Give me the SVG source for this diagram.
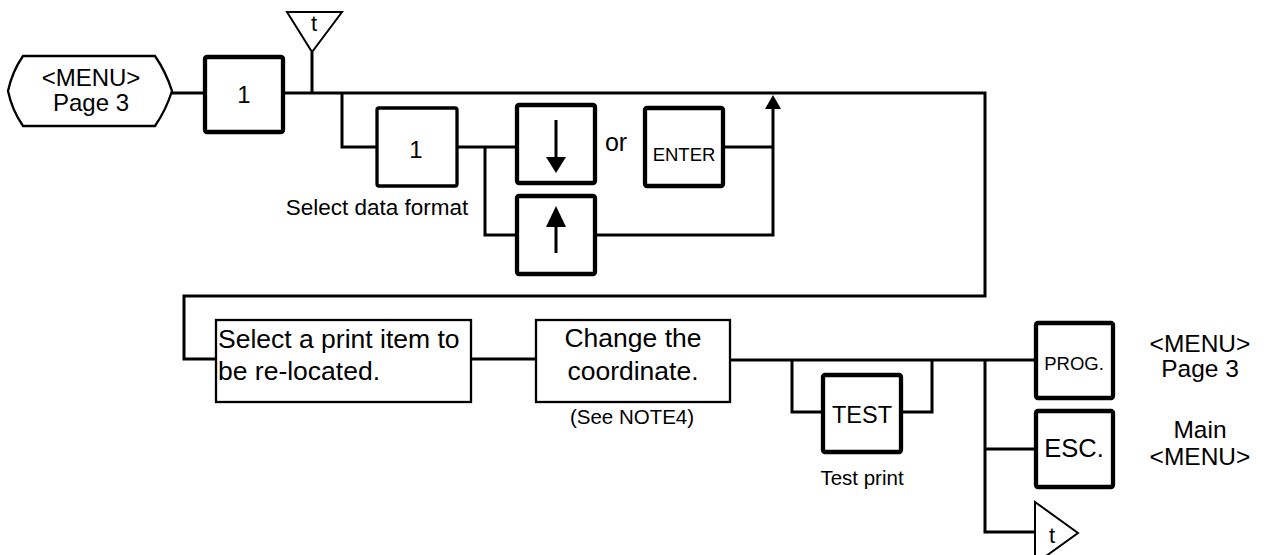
<svg xmlns="http://www.w3.org/2000/svg" width="1269" height="555" viewBox="0 0 1269 555">
<style>
text{font-family:"Liberation Sans",Arial,sans-serif;fill:#000}
.c{text-anchor:middle}
.key{fill:#fff;stroke:#000;stroke-width:4.3}
.key3{fill:#fff;stroke:#000;stroke-width:3.3}
.box{fill:#fff;stroke:#000;stroke-width:2.3}
.tri{fill:#fff;stroke:#000;stroke-width:2}
.ln{fill:none;stroke:#000;stroke-width:3}
</style>
<g id="connectors">
<path class="ln" d="M172,93 H205"/>
<path class="ln" d="M283,93 H985 V296 H184 V359 H216"/>
<path class="ln" d="M312,93 V52"/>
<path class="ln" d="M342,93 V147 H377"/>
<path class="ln" d="M457,147 H517"/>
<path class="ln" d="M485,147 V235 H517"/>
<path class="ln" d="M723,147 H773"/>
<path class="ln" d="M595,235 H773 V108"/>
<path d="M765,109 L773,95 L781,109 Z" fill="#000"/>
<path class="ln" d="M471,359 H536"/>
<path class="ln" d="M730,360 H1036"/>
<path class="ln" d="M792,360 V412 H823"/>
<path class="ln" d="M901,412 H932 V360"/>
<path class="ln" d="M985,360 V532 H1035"/>
<path class="ln" d="M985,449 H1036"/>
</g>
<g id="start">
<path class="box" d="M23,56 H155 Q166,72 172,91 Q166,110 155,126 H23 Q12,110 8,91 Q12,72 23,56 Z"/>
<text class="c" x="91" y="86" font-size="24">&lt;MENU&gt;</text>
<text class="c" x="91" y="111" font-size="24">Page 3</text>
</g>
<g id="key1">
<rect class="key" x="205" y="57" width="78" height="75" rx="2"/>
<text class="c" x="244" y="103" font-size="24">1</text>
</g>
<g id="t-top">
<path class="tri" d="M287,12 H342 L312,52 Z"/>
<text class="c" x="314" y="31" font-size="22">t</text>
</g>
<g id="key1b">
<rect class="key3" x="377" y="108" width="80" height="78" rx="2"/>
<text class="c" x="416" y="158" font-size="24">1</text>
<text class="c" x="377" y="215" font-size="22.5">Select data format</text>
</g>
<g id="down">
<rect class="key" x="517" y="105" width="78" height="78" rx="2"/>
<path d="M556,120 V160" stroke="#000" stroke-width="3"/>
<path d="M546,157 L556,173 L566,157 Z" fill="#000"/>
</g>
<g id="or">
<text class="c" x="616" y="151" font-size="25">or</text>
</g>
<g id="enter">
<rect class="key" x="645" y="108" width="78" height="78" rx="2"/>
<text class="c" x="684" y="161" font-size="18.5">ENTER</text>
</g>
<g id="up">
<rect class="key" x="517" y="196" width="78" height="78" rx="2"/>
<path d="M556,224 V253" stroke="#000" stroke-width="3"/>
<path d="M546,227 L556,206 L566,227 Z" fill="#000"/>
</g>
<g id="select-item">
<rect class="box" x="216" y="320" width="255" height="82"/>
<text x="218" y="348" font-size="26.5">Select a print item to</text>
<text x="218" y="380" font-size="26.5">be re-located.</text>
</g>
<g id="change">
<rect class="box" x="536" y="320" width="194" height="82"/>
<text class="c" x="633" y="347" font-size="26.5">Change the</text>
<text class="c" x="633" y="380" font-size="26.5">coordinate.</text>
<text class="c" x="632" y="424" font-size="20.5">(See NOTE4)</text>
</g>
<g id="test">
<rect class="key" x="823" y="375" width="78" height="77" rx="2"/>
<text class="c" x="862" y="423" font-size="23.5">TEST</text>
<text class="c" x="862" y="485" font-size="20.5">Test print</text>
</g>
<g id="prog">
<rect class="key" x="1036" y="323" width="77" height="75" rx="2"/>
<text class="c" x="1074" y="370" font-size="18.5">PROG.</text>
<text class="c" x="1200" y="352" font-size="24.5">&lt;MENU&gt;</text>
<text class="c" x="1200" y="377" font-size="24.5">Page 3</text>
</g>
<g id="esc">
<rect class="key" x="1036" y="411" width="77" height="76" rx="2"/>
<text class="c" x="1074" y="457" font-size="25.5">ESC.</text>
<text class="c" x="1200" y="438" font-size="24.5">Main</text>
<text class="c" x="1200" y="465" font-size="24.5">&lt;MENU&gt;</text>
</g>
<g id="t-bottom">
<path class="tri" d="M1035,502 L1078,533 L1035,564 Z"/>
<text class="c" x="1052" y="543" font-size="22">t</text>
</g>
</svg>
